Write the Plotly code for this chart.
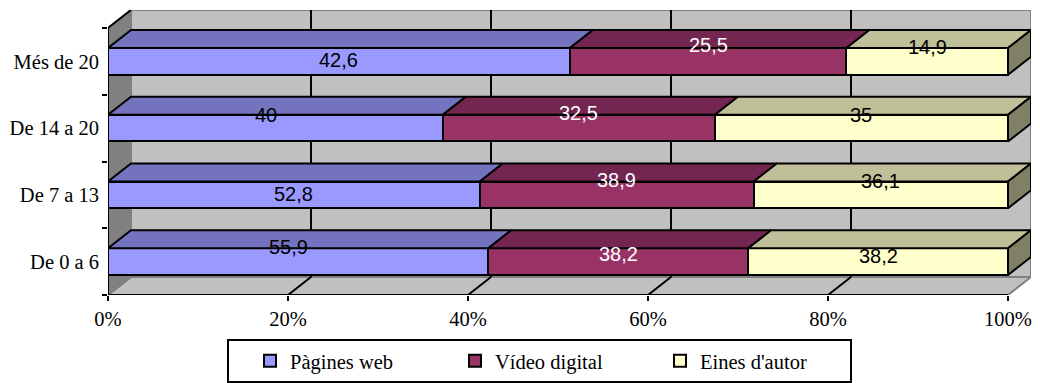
import plotly.graph_objects as go

categories = ["De 0 a 6", "De 7 a 13", "De 14 a 20", "Més de 20"]
series_names = ["Pàgines web", "Vídeo digital", "Eines d'autor"]
pagines_web = [55.9, 52.8, 40, 42.6]
video_digital = [38.2, 38.9, 32.5, 25.5]
eines_autor = [38.2, 36.1, 35, 14.9]
x_ticks = [0, 20, 40, 60, 80, 100]

series = [pagines_web, video_digital, eines_autor]
front = ["#9999FF", "#993366", "#FFFFCC"]
top = ["#7373BF", "#732650", "#BFBF99"]
side = "#808066"
label_colors = ["black", "white", "black"]
# label nudges (px) per category, per series
yshifts = [[15, 8, 6], [1, 15, 14], [13, 15, 13], [1, 16, 14]]
xshifts = [[-10, 0, 0], [0, 0, 0], [-9, 0, 0], [0, 0, 0]]

DX, DY = 23 / 9, 18 / 66.75
BAR_H = 0.4
n = len(categories)
ys = list(range(n))
y0, y1 = -0.5, n - 0.5
SERIF, SANS = "Liberation Serif", "Liberation Sans"

fig = go.Figure()
for name, vals, c in zip(series_names, series, front):
    fig.add_bar(y=ys, x=vals, name=name, orientation="h", width=BAR_H,
                marker=dict(color=c, line=dict(color="black", width=2)), hoverinfo="skip")

totals = [sum(s[i] for s in series) for i in range(n)]
annotations = []
cum = [0.0] * n
for k, vals in enumerate(series):
    xs, yy = [], []
    for i in range(n):
        l = cum[i]
        r = l + vals[i] / totals[i] * 100
        t = i + BAR_H / 2
        xs += [l, l + DX, r + DX, r, l, None]
        yy += [t, t + DY, t + DY, t, t, None]
        annotations.append(dict(x=(l + r) / 2, y=i, text=f"{vals[i]}".replace(".", ","), showarrow=False,
                                xshift=xshifts[i][k], yshift=yshifts[i][k],
                                font=dict(family=SANS, size=20, color=label_colors[k])))
        cum[i] = r
    fig.add_scatter(x=xs, y=yy, mode="lines", fill="toself", fillcolor=top[k], showlegend=False,
                    line=dict(color="black", width=2), hoverinfo="skip", cliponaxis=False)

xs, yy = [], []
for i in range(n):
    t, b = i + BAR_H / 2, i - BAR_H / 2
    xs += [100, 100 + DX, 100 + DX, 100, 100, None]
    yy += [t, t + DY, b + DY, b, t, None]
fig.add_scatter(x=xs, y=yy, mode="lines", fill="toself", fillcolor=side, showlegend=False,
                line=dict(color="black", width=2), hoverinfo="skip", cliponaxis=False)

GRAY = dict(color="#808080", width=2)
BLACK = dict(color="black", width=2)
shapes = [
    dict(type="rect", x0=DX, x1=100 + DX, y0=y0 + DY, y1=y1 + DY, fillcolor="#C0C0C0", line=GRAY),
    dict(type="path", path=f"M 0 {y0} L {DX} {y0+DY} L {100+DX} {y0+DY} L 100 {y0} Z", fillcolor="#C0C0C0", line=GRAY),
    dict(type="path", path=f"M 0 {y0} L {DX} {y0+DY} L {DX} {y1+DY} L 0 {y1} Z", fillcolor="#808080", line=GRAY),
]
for v in x_ticks[1:-1]:
    shapes.append(dict(type="line", x0=v + DX, x1=v + DX, y0=y0 + DY, y1=y1 + DY, line=BLACK))
    shapes.append(dict(type="line", x0=v, x1=v + DX, y0=y0, y1=y0 + DY, line=BLACK))
shapes += [
    dict(type="line", x0=0, x1=0, y0=y0, y1=y1, line=BLACK),
    dict(type="line", x0=0, x1=DX, y0=y1, y1=y1 + DY, line=BLACK),
    dict(type="line", x0=0, x1=100, y0=y0, y1=y0, line=BLACK),
]
for s in shapes:
    s.update(xref="x", yref="y", layer="below")

# legend frame
shapes.append(dict(type="rect", xref="paper", yref="paper", layer="below",
                   x0=(228 - 108) / 923, x1=(851 - 108) / 923,
                   y0=-(382 - 295) / 285, y1=-(340 - 295) / 285,
                   fillcolor="white", line=BLACK))

fig.update_layout(
    width=1040, height=383, barmode="stack", barnorm="percent", bargap=0.6,
    margin=dict(l=108, r=9, t=10, b=88, pad=0, autoexpand=False),
    paper_bgcolor="white", plot_bgcolor="white", shapes=shapes, annotations=annotations,
    font=dict(family=SERIF, size=20.5, color="black"),
    xaxis=dict(range=[0, 100 + DX], tickvals=x_ticks, ticktext=[f"{v}%" for v in x_ticks],
               showgrid=False, zeroline=False, showline=False, ticks="outside", ticklen=5,
               tickwidth=2, tickcolor="black"),
    yaxis=dict(range=[y0, y1 + DY], tickvals=ys, ticktext=categories, showgrid=False, zeroline=False,
               showline=False, ticks="", ticklabelstandoff=8,
               minor=dict(tickvals=[y0 + i for i in range(n + 1)], ticks="outside", ticklen=5,
                          tickwidth=2, tickcolor="black", showgrid=False)),
    legend=dict(orientation="h", x=(250 - 108) / 923, y=-(361 - 295) / 285, xanchor="left", yanchor="middle",
                xref="paper", yref="paper", entrywidth=160, entrywidthmode="pixels",
                bgcolor="rgba(0,0,0,0)", borderwidth=0, font=dict(family=SERIF, size=20.5), traceorder="normal"),
    showlegend=True,
)
fig.write_html("out.html", config={"displayModeBar": False},
               post_script="document.body.style.margin='0';document.body.style.overflow='hidden';window.dispatchEvent(new Event('resize'));")
